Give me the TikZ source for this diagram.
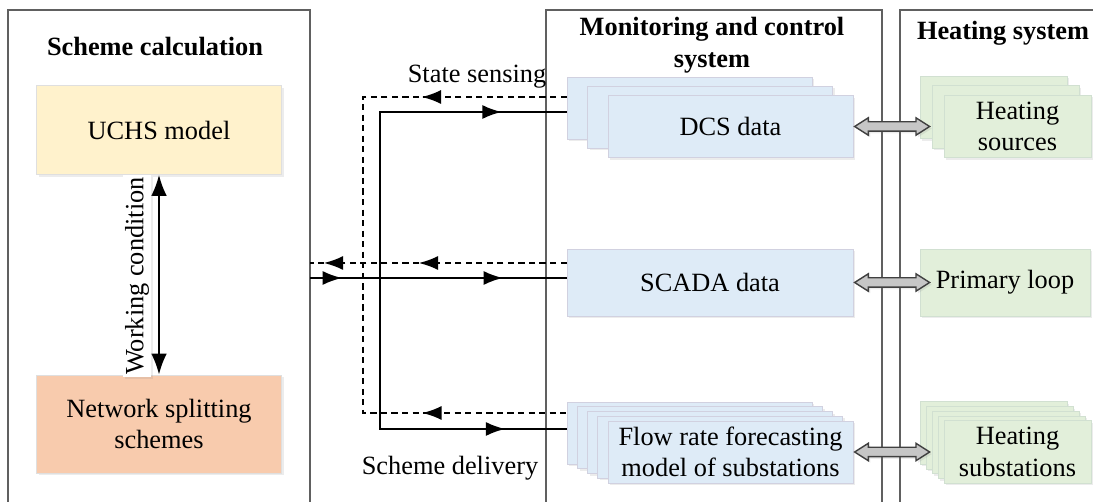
\documentclass[tikz,border=0pt]{standalone}
\usepackage{fontspec}
\setmainfont{Liberation Serif}
\usetikzlibrary{positioning,shapes.arrows,decorations.markings,arrows.meta,shadows}

\definecolor{uchsyellow}{HTML}{FFF2CC}
\definecolor{splitsalmon}{HTML}{F8CBAD}
\definecolor{databluefill}{HTML}{DEEBF7}
\definecolor{plantgreen}{HTML}{E2EFDA}

\tikzset{
  every node/.style={font=\fontsize{15}{18}\selectfont},
  frame/.style={draw=gray!75!black, line width=0.6pt},
  title/.style={font=\fontsize{15}{18}\selectfont\bfseries, align=center},
  softshadow/.style={drop shadow={shadow xshift=1.2pt, shadow yshift=-1.2pt, opacity=0.15}},
  calcbox/.style={draw=gray!25, minimum width=4.9cm, align=center, softshadow},
  databox/.style={draw=blue!20!gray!30, fill=databluefill, minimum width=4.9cm, minimum height=1.24cm, align=center, softshadow},
  plantbox/.style={draw=green!20!gray!30, fill=plantgreen, minimum width=2.94cm, minimum height=1.25cm, align=center, softshadow},
  sense/.style={line width=1.2pt, dash pattern=on 3.5pt off 2.5pt},
  deliver/.style={line width=1.2pt},
  arrowmark/.style={postaction={solid, decorate, decoration={markings, mark=at position #1 with {\arrow{Latex[length=11pt,width=8pt]}}}}},
  backmark/.style={postaction={solid, decorate, decoration={markings, mark=at position #1 with {\arrowreversed{Latex[length=11pt,width=8pt]}}}}},
  biarrow/.style={double arrow, draw=gray!50!black, line width=0.8pt, fill=gray!45, minimum height=1.5cm, inner sep=0.08cm, double arrow head extend=0.08cm, double arrow tip angle=65, softshadow},
}

\begin{document}
\begin{tikzpicture}[x=0.02cm, y=-0.02cm]
\useasboundingbox (0,0) rectangle (1093,502);

% outer frames
\draw[frame] (8,502) -- (8,10) -- (310,10) -- (310,502);  % scheme calculation
\draw[frame] (546,502) -- (546,10) -- (882,10) -- (882,502);  % monitoring
\draw[frame] (1093,10) -- (900,10) -- (900,502);  % heating system

\node[title] (tcalc) at (155,47) {Scheme calculation};
\node[title] (tmon) at (712,45) {Monitoring and control\\system};
\node[title] (theat) at (1003,33) {Heating system};

% scheme calculation
\node[calcbox, fill=uchsyellow, minimum height=1.78cm] (uchs) at (159,130) {UCHS model};
\node[calcbox, fill=splitsalmon, minimum height=1.96cm] (nss) at (159,424) {Network splitting\\schemes};
\draw[{Latex[length=12pt,width=9pt]}-{Latex[length=12pt,width=9pt]}, line width=1.2pt] (uchs.south) -- (nss.north);
\node[fill=white, rotate=90, inner sep=1pt, softshadow] (wc) at (137,276) {Working condition};

% monitoring and control system
\node[databox] (dcs0) at (689.5,108) {};
\node[databox] (dcs1) at (710,117) {};
\node[databox] (dcs2) at (730.5,126.5) {DCS data};
\node[databox, minimum width=5.72cm, minimum height=1.34cm] (scada) at (710,282.5) {SCADA data};
\node[databox] (flow0) at (689.5,433) {};
\node[databox] (flow1) at (700,437.75) {};
\node[databox] (flow2) at (710,442.5) {};
\node[databox] (flow3) at (720,447.25) {};
\node[databox] (flow4) at (730.5,452) {Flow rate forecasting\\model of substations};

% heating system
\node[plantbox] (hs0) at (993.5,107.5) {};
\node[plantbox] (hs1) at (1005.5,117) {};
\node[plantbox] (hs2) at (1017.5,126.5) {Heating\\sources};
\node[plantbox, minimum width=3.4cm, minimum height=1.34cm] (loop) at (1005,282.5) {Primary loop};
\node[plantbox] (sub0) at (993.5,433) {};
\node[plantbox] (sub1) at (999.5,437.75) {};
\node[plantbox] (sub2) at (1005.5,442.5) {};
\node[plantbox] (sub3) at (1011.5,447.25) {};
\node[plantbox] (sub4) at (1017.5,452) {Heating\\substations};

\node[biarrow, right=0pt of dcs2] (a1) {};
\node[biarrow, right=0pt of scada] (a2) {};
\node[biarrow, right=0pt of flow4] (a3) {};

% state sensing and scheme delivery
\coordinate (lb) at (310,0);
\coordinate (sv) at (363,0);
\coordinate (dv) at (380,0);
\coordinate (s1) at ([yshift=0.22cm]dcs0.west);
\coordinate (s2) at ([yshift=0.4cm]flow0.west);
\coordinate (s3) at ([yshift=0.39cm]scada.west);
\coordinate (d1) at ([yshift=-0.08cm]dcs0.west);
\coordinate (d2) at ([yshift=0.08cm]flow0.west);
\coordinate (d3) at ([yshift=0.09cm]scada.west);

\draw[sense, arrowmark=2.9cm, backmark=11.58cm] (s1) -- (s1 -| sv) -- (s2 -| sv) -- (s2);
\draw[sense, arrowmark=2.96cm, arrowmark=4.86cm] (s3) -- (s3 -| lb);
\draw[deliver, backmark=1.3cm, arrowmark=12.58cm] (d1) -- (d1 -| dv) -- (d2 -| dv) -- (d2);
\draw[deliver, arrowmark=0.64cm, arrowmark=3.86cm] (d3 -| lb) -- (d3);

\node (ss) at (477,77) {State sensing};
\node (sd) at (450,468) {Scheme delivery};

\end{tikzpicture}
\end{document}
